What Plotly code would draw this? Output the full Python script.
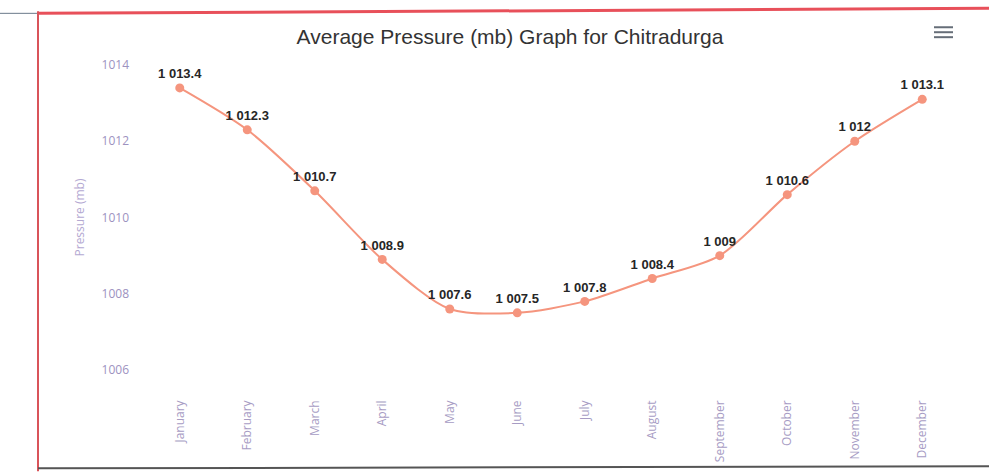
import plotly.graph_objects as go

months = ["January", "February", "March", "April", "May", "June", "July",
          "August", "September", "October", "November", "December"]
pressure = [1013.4, 1012.3, 1010.7, 1008.9, 1007.6, 1007.5, 1007.8,
            1008.4, 1009.0, 1010.6, 1012.0, 1013.1]
y_ticks = [1006, 1008, 1010, 1012, 1014]


def fmt(v):
    s = f"{v:,.1f}"
    if s.endswith(".0"):
        s = s[:-2]
    return s.replace(",", " ")


labels = [fmt(v) for v in pressure]

W, H = 989, 474
L, R, T, B = 146, 33, 65, 102
pw, ph = W - L - R, H - T - B


def px(x):
    return (x - L) / pw


def py(y):
    return (H - B - y) / ph


fig = go.Figure()
fig.add_trace(go.Scatter(
    x=months, y=pressure, mode="lines+markers+text",
    line=dict(color="#f5957e", width=2, shape="spline", smoothing=0.8),
    marker=dict(color="#f5957e", size=9),
    text=labels, textposition="top center",
    textfont=dict(family="Liberation Sans, Arial, sans-serif", size=13, color="#262626"),
    texttemplate="<b>%{text}</b>",
    hoverinfo="skip", cliponaxis=False,
))

fig.update_layout(
    width=W, height=H,
    margin=dict(l=L, r=R, t=T, b=B),
    paper_bgcolor="white", plot_bgcolor="white",
    showlegend=False,
    title=dict(text="Average Pressure (mb) Graph for Chitradurga",
               x=510 / W, xanchor="center", y=1 - 37 / H, yanchor="middle",
               font=dict(family="Liberation Sans, Arial, sans-serif", size=21, color="#333333")),
    xaxis=dict(type="category", range=[-0.5, 11.5], tickangle=-90, showgrid=False,
               zeroline=False, showline=False, ticks="", ticklabelstandoff=27,
               tickfont=dict(family="Open Sans, sans-serif", size=12, color="#a79cc4")),
    yaxis=dict(range=[1006, 1014], tickvals=y_ticks, ticktext=[str(t) for t in y_ticks],
               showgrid=False, zeroline=False, showline=False, ticks="",
               ticklabelstandoff=16,
               tickfont=dict(family="Open Sans, sans-serif", size=12, color="#9d92bf"),
               title=dict(text="Pressure (mb)", standoff=14,
                          font=dict(family="Open Sans, sans-serif", size=12, color="#b4a9d2"))),
)

# page borders from the scan
fig.add_shape(type="line", xref="paper", yref="paper",
              x0=px(38), x1=px(989), y0=py(13), y1=py(8),
              line=dict(color="#e8505a", width=3))
fig.add_shape(type="line", xref="paper", yref="paper",
              x0=px(38), x1=px(38), y0=py(11), y1=py(474),
              line=dict(color="#d9545a", width=2))
fig.add_shape(type="line", xref="paper", yref="paper",
              x0=px(0), x1=px(37), y0=py(13), y1=py(13),
              line=dict(color="#6a7a8a", width=1))
fig.add_shape(type="line", xref="paper", yref="paper",
              x0=px(38), x1=px(989), y0=py(471), y1=py(469),
              line=dict(color="#555555", width=2))

# menu icon
for dy in (27, 32, 37):
    fig.add_shape(type="line", xref="paper", yref="paper",
                  x0=px(934), x1=px(953), y0=py(dy), y1=py(dy),
                  line=dict(color="#666e78", width=2))

fig.write_html("out.html", config={"displayModeBar": False},
               post_script="document.body.style.margin='0';")
